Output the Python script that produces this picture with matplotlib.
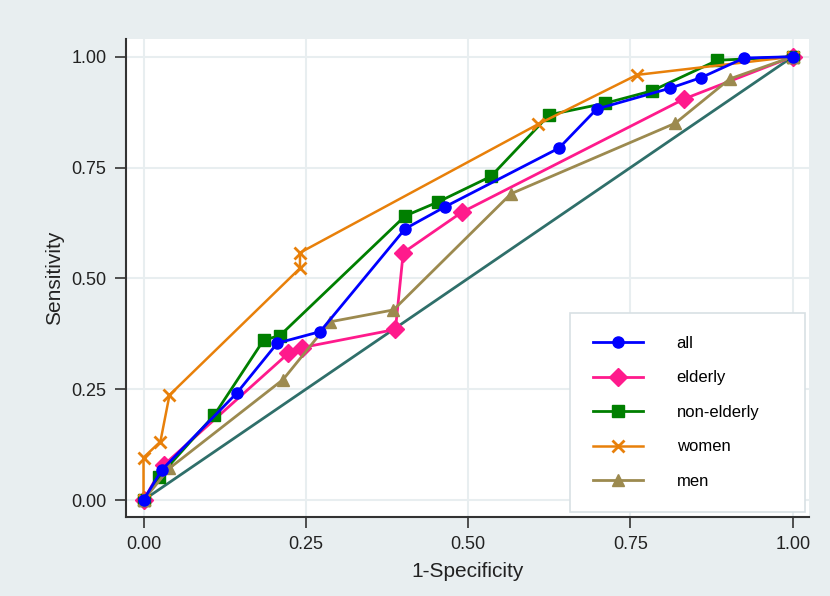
import matplotlib
matplotlib.use("Agg")
import matplotlib.pyplot as plt

# ROC points (1-specificity, sensitivity)
all_x = [0.0, 0.028, 0.144, 0.206, 0.272, 0.403, 0.465, 0.640, 0.698, 0.811, 0.859, 0.925, 1.0]
all_y = [0.0, 0.068, 0.242, 0.354, 0.380, 0.612, 0.662, 0.794, 0.882, 0.929, 0.953, 0.997, 1.0]

eld_x = [0.0, 0.031, 0.223, 0.244, 0.388, 0.400, 0.490, 0.833, 1.0]
eld_y = [0.0, 0.079, 0.331, 0.344, 0.385, 0.558, 0.649, 0.905, 1.0]

non_x = [0.0, 0.024, 0.109, 0.185, 0.210, 0.403, 0.453, 0.535, 0.625, 0.711, 0.783, 0.884, 1.0]
non_y = [0.0, 0.053, 0.192, 0.361, 0.371, 0.641, 0.672, 0.730, 0.869, 0.895, 0.923, 0.992, 1.0]

wom_x = [0.0, 0.0, 0.026, 0.040, 0.241, 0.241, 0.608, 0.760, 1.0]
wom_y = [0.0, 0.096, 0.132, 0.237, 0.523, 0.558, 0.848, 0.959, 1.0]

men_x = [0.0, 0.040, 0.215, 0.287, 0.385, 0.566, 0.819, 0.903, 1.0]
men_y = [0.0, 0.072, 0.272, 0.402, 0.429, 0.691, 0.850, 0.950, 1.0]

ref_line = [0.0, 1.0]
ticks = [0.0, 0.25, 0.5, 0.75, 1.0]
tick_labels = ["0.00", "0.25", "0.50", "0.75", "1.00"]

plt.rcParams['font.family'] = ['Liberation Sans', 'DejaVu Sans']

bg = '#e8eef0'
fig = plt.figure(figsize=(8.3, 5.96), dpi=100, facecolor=bg)
ax = fig.add_axes([0.1518, 0.1326, 0.8229, 0.802])
ax.set_facecolor('white')

ax.plot(all_x, all_y, color='#0000ff', lw=2, marker='o', ms=8, label='all', zorder=5)
ax.plot(eld_x, eld_y, color='#ff1a8c', lw=2, marker='D', ms=9, label='elderly', zorder=4)
ax.plot(non_x, non_y, color='#007f00', lw=2, marker='s', ms=8, label='non-elderly', zorder=4)
ax.plot(wom_x, wom_y, color='#e8800a', lw=1.8, marker='x', ms=9, mew=2, label='women', zorder=4)
ax.plot(men_x, men_y, color='#9c8a4f', lw=2, marker='^', ms=9, label='men', zorder=4)
ax.plot(ref_line, ref_line, color='#2f6f6a', lw=2, zorder=3)

ax.set_xlim(-0.027, 1.025)
ax.set_ylim(-0.038, 1.04)
ax.set_xticks(ticks)
ax.set_xticklabels(tick_labels, fontsize=13)
ax.set_yticks(ticks)
ax.set_yticklabels(tick_labels, fontsize=13)
ax.tick_params(direction='out', length=8, width=1.2, pad=6, color='#333333', labelcolor='#222222')
ax.grid(True, color=bg, lw=1.5)
ax.set_axisbelow(True)

for s in ['top', 'right']:
    ax.spines[s].set_visible(False)
for s in ['left', 'bottom']:
    ax.spines[s].set_color('#333333')
    ax.spines[s].set_linewidth(1.5)

ax.set_xlabel('1-Specificity', fontsize=15, labelpad=6, color='#222222')
ax.set_ylabel('Sensitivity', fontsize=15, labelpad=5, color='#222222')

leg = ax.legend(loc='lower left', bbox_to_anchor=(0.65, 0.01, 0.344, 0.417), mode='expand',
                borderaxespad=0, fontsize=12, handlelength=3.0, handletextpad=2.0,
                labelspacing=1.17, borderpad=1.4, fancybox=False, framealpha=1,
                edgecolor='#d8e0e4')
leg.get_frame().set_linewidth(1.2)

fig.savefig('out.png', dpi=100, facecolor=bg)
